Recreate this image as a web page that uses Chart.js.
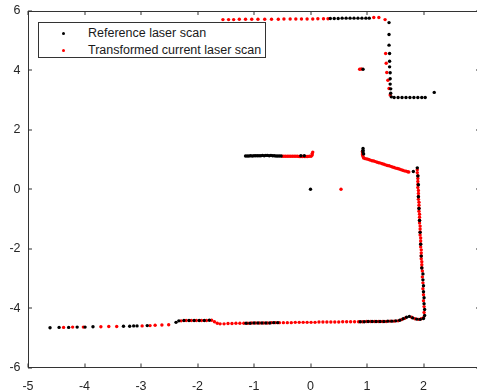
<!DOCTYPE html>
<html>
<head>
<meta charset="utf-8">
<script src="https://cdn.jsdelivr.net/npm/chart.js@4.4.1/dist/chart.umd.min.js"></script>
<style>
  html, body { margin: 0; padding: 0; background: #fff; }
  #wrap { position: relative; width: 477px; height: 392px; overflow: hidden; }
  #wrap canvas { position: absolute; left: 0; top: 0; }
  #legend {
    position: absolute; left: 38px; top: 22px; width: 226px; height: 34px;
    border: 1px solid #333; background: #fff;
    font-family: "Liberation Sans", Arial, sans-serif; font-size: 12.5px; color: #1a1a1a;
  }
  .row { position: absolute; left: 0; height: 16px; line-height: 16px; white-space: nowrap; }
  .dot { position: absolute; left: 22.5px; top: 6.5px; width: 3px; height: 3px; border-radius: 50%; }
  .lbl { position: absolute; left: 49px; top: 0; }
</style>
</head>
<body>
<div id="wrap">
  <canvas id="c" width="490" height="392"></canvas>
  <div id="legend"></div>
</div>
<script>
// tick values
const xTickValues = [-5, -4, -3, -2, -1, 0, 1, 2, 3];
const yTickValues = [-6, -4, -2, 0, 2, 4, 6];

const seriesNames = ['Reference laser scan', 'Transformed current laser scan'];
const seriesColors = ['#000000', '#ff0000'];

// reference scan (black), [x, y]
const refScan = [
  // top wall
  [0.35,5.75],[0.42,5.75],[0.49,5.75],[0.56,5.76],[0.63,5.76],[0.70,5.76],[0.77,5.76],[0.84,5.76],[0.91,5.76],[0.98,5.76],[1.04,5.76],
  // corridor on the right
  [1.39,5.61],[1.39,5.21],[1.39,4.85],[1.40,4.57],[1.40,4.31],[1.40,4.12],[1.41,3.92],[1.41,3.72],[1.41,3.54],[1.42,3.38],[1.42,3.23],[1.43,3.11],
  [1.48,3.09],[1.55,3.09],[1.62,3.09],[1.69,3.09],[1.76,3.09],[1.83,3.09],[1.90,3.09],[1.97,3.09],[2.03,3.09],
  [2.19,3.26],
  [0.93,4.04],
  // middle segment
  [-1.15,1.12],[-1.12,1.12],[-1.09,1.12],[-1.06,1.13],[-1.03,1.12],[-1.00,1.13],[-0.97,1.13],[-0.94,1.13],[-0.91,1.13],[-0.88,1.13],[-0.85,1.14],
  [-0.82,1.13],[-0.79,1.14],[-0.76,1.14],[-0.73,1.13],[-0.70,1.14],[-0.67,1.13],[-0.64,1.13],[-0.61,1.12],[-0.58,1.12],[-0.55,1.12],[-0.52,1.12],
  [-0.17,1.13],[-0.11,1.13],
  [0.00,0.00],
  [0.93,1.37],[0.93,1.31],[0.93,1.25],[0.94,1.19],
  [1.82,0.60],
  // right wall
  [1.89,0.72],[1.90,0.45],[1.91,0.15],[1.91,-0.25],[1.92,-0.65],[1.93,-1.05],[1.94,-1.45],[1.95,-1.85],[1.96,-2.25],[1.97,-2.65],
  [1.99,-2.85],[1.99,-3.05],[2.00,-3.25],[2.00,-3.45],[2.01,-3.65],[2.01,-3.85],[2.02,-4.05],[2.02,-4.25],
  // bottom wall
  [-4.61,-4.66],[-4.45,-4.65],[-4.28,-4.65],[-4.13,-4.64],[-3.99,-4.64],[-3.85,-4.63],[-3.31,-4.61],[-3.20,-4.61],[-3.13,-4.60],[-3.07,-4.60],[-2.89,-4.59],
  [-2.38,-4.48],[-2.33,-4.43],[-2.24,-4.42],[-2.15,-4.42],[-2.06,-4.42],[-1.97,-4.42],[-1.88,-4.42],[-1.79,-4.41],
  [-1.14,-4.51],[-1.07,-4.51],[-1.00,-4.50],[-0.93,-4.50],[-0.86,-4.50],[-0.79,-4.50],[-0.72,-4.50],[-0.65,-4.49],[-0.58,-4.49],
  [0.88,-4.46],[0.95,-4.46],[1.02,-4.45],[1.09,-4.45],[1.16,-4.45],[1.23,-4.45],[1.30,-4.45],[1.37,-4.44],[1.44,-4.44],[1.51,-4.43],
  [1.58,-4.41],[1.64,-4.36],[1.70,-4.31],[1.75,-4.28],[1.81,-4.33],[1.88,-4.37],[1.94,-4.38],[2.00,-4.35]
];

// transformed current scan (red)
const curScan = [
  // top wall
  [-1.55,5.71],[-1.45,5.71],[-1.36,5.71],[-1.26,5.72],[-1.15,5.72],[-1.04,5.72],[-0.93,5.72],[-0.81,5.72],[-0.69,5.72],[-0.57,5.72],
  [-0.47,5.73],[-0.36,5.73],[-0.26,5.73],[-0.16,5.73],[-0.06,5.73],[0.04,5.73],[0.13,5.74],[0.23,5.74],[0.31,5.74],
  [1.12,5.78],[1.21,5.78],[1.32,5.71],
  // corridor
  [1.33,4.57],[1.34,4.24],[1.35,3.93],[1.37,3.67],[1.39,3.39],[1.41,3.17],
  [0.87,4.04],[0.90,4.05],
  // middle segment
  [-0.50,1.11],[-0.47,1.11],[-0.44,1.11],[-0.41,1.11],[-0.38,1.11],[-0.35,1.11],[-0.32,1.11],[-0.29,1.11],[-0.26,1.11],[-0.23,1.11],
  [-0.20,1.10],[-0.17,1.10],[-0.14,1.10],[-0.11,1.10],[-0.08,1.10],[-0.05,1.10],[-0.02,1.11],[0.01,1.11],[0.03,1.15],[0.03,1.20],[0.04,1.25],
  [0.54,0.00],
  [0.92,1.28],[0.92,1.22],[0.92,1.16],[0.93,1.10],[0.94,1.05],
  [0.97,1.03],[1.00,1.02],[1.03,1.00],[1.06,0.98],[1.09,0.96],[1.12,0.95],[1.15,0.93],[1.18,0.91],[1.21,0.89],[1.24,0.88],
  [1.27,0.86],[1.30,0.84],[1.33,0.82],[1.36,0.80],[1.39,0.79],[1.42,0.77],[1.45,0.75],[1.48,0.73],[1.51,0.71],[1.54,0.70],
  [1.57,0.68],[1.60,0.66],[1.63,0.64],[1.66,0.62],[1.69,0.61],[1.72,0.59],[1.74,0.58],
  // right wall
  [1.89,0.66],[1.89,0.56],[1.90,0.46],[1.90,0.36],[1.90,0.26],[1.90,0.16],[1.90,0.06],[1.91,-0.04],[1.91,-0.14],[1.91,-0.24],
  [1.91,-0.34],[1.92,-0.44],[1.92,-0.54],[1.92,-0.64],[1.92,-0.74],[1.93,-0.84],[1.93,-0.94],[1.93,-1.04],[1.93,-1.14],[1.94,-1.24],
  [1.94,-1.34],[1.94,-1.44],[1.94,-1.54],[1.95,-1.64],[1.95,-1.74],[1.95,-1.84],[1.95,-1.94],[1.96,-2.04],[1.96,-2.14],[1.96,-2.24],
  [1.96,-2.34],[1.97,-2.44],[1.97,-2.54],[1.97,-2.64],
  [1.98,-2.75],[1.98,-2.95],[1.99,-3.15],[1.99,-3.35],[2.00,-3.55],[2.00,-3.75],[2.01,-3.95],[2.01,-4.15],
  // bottom wall
  [-4.37,-4.65],[-4.21,-4.64],[-4.02,-4.64],[-3.71,-4.63],[-3.57,-4.62],[-3.43,-4.62],[-2.98,-4.60],[-2.84,-4.59],[-2.75,-4.58],[-2.63,-4.57],[-2.51,-4.56],
  [-2.29,-4.43],[-2.20,-4.42],[-2.11,-4.42],[-2.02,-4.42],[-1.93,-4.42],[-1.84,-4.42],[-1.75,-4.41],[-1.70,-4.46],[-1.65,-4.51],
  [-1.60,-4.53],[-1.53,-4.53],[-1.46,-4.52],[-1.39,-4.52],[-1.32,-4.51],[-1.25,-4.51],[-1.18,-4.51],[-1.11,-4.51],[-1.04,-4.50],[-0.97,-4.50],
  [-0.90,-4.50],[-0.83,-4.50],[-0.76,-4.50],[-0.69,-4.49],[-0.62,-4.49],[-0.55,-4.49],[-0.48,-4.49],[-0.41,-4.49],[-0.34,-4.49],[-0.27,-4.48],
  [-0.20,-4.48],[-0.13,-4.48],[-0.06,-4.48],[0.01,-4.48],[0.08,-4.48],[0.15,-4.47],[0.22,-4.47],[0.29,-4.47],[0.36,-4.47],[0.43,-4.47],
  [0.50,-4.47],[0.57,-4.46],[0.64,-4.46],[0.71,-4.46],[0.78,-4.46],[0.85,-4.46],[0.92,-4.46],[0.99,-4.45],[1.06,-4.45],[1.13,-4.45],
  [1.20,-4.45],[1.27,-4.45],[1.34,-4.45],[1.41,-4.44],[1.48,-4.44],[1.55,-4.43],
  [1.61,-4.39],[1.67,-4.34],[1.79,-4.31],[1.85,-4.36],[1.91,-4.38],[1.96,-4.36],[2.00,-4.32]
];

const toPts = arr => arr.map(([x, y]) => ({ x, y }));
const tickFont = { family: '"Liberation Sans", Arial, sans-serif', size: 12.5 };
const axisColor = '#333333';

// legend (html)
const legendBox = document.getElementById('legend');
seriesNames.forEach((name, i) => {
  const row = document.createElement('div');
  row.className = 'row';
  row.style.top = (2 + i * 17) + 'px';
  row.innerHTML = `<span class="dot" style="background:${seriesColors[i]}"></span><span class="lbl">${name}</span>`;
  legendBox.appendChild(row);
});

// inward tick marks, drawn over the datasets with the chart's own scales
const tickMarks = {
  id: 'tickmarks',
  afterDatasetsDraw(chart) {
    const { ctx, chartArea: a } = chart;
    const sx = chart.scales.x, sy = chart.scales.y;
    ctx.save();
    ctx.fillStyle = axisColor;
    xTickValues.forEach(v => {
      const px = Math.round(sx.getPixelForValue(v)) - 0.5;
      ctx.fillRect(px, a.bottom - 4, 1, 4);
      ctx.fillRect(px, a.top, 1, 4);
    });
    yTickValues.forEach(v => {
      const py = Math.round(sy.getPixelForValue(v)) - 0.5;
      ctx.fillRect(a.left, py, 4, 1);
      ctx.fillRect(a.right - 4, py, 4, 1);
    });
    ctx.restore();
  }
};

// axis options shared by the box sides
const sideAxis = (position, axis, min, max) => ({
  type: 'linear', position, axis, min, max,
  grid: { display: false, drawTicks: false },
  border: { display: true, color: axisColor, width: 1 },
  ticks: { display: false },
  afterFit: s => {
    if (axis === 'x') s.height = 0; else s.width = 0;
    s.paddingLeft = 0; s.paddingRight = 0; s.paddingTop = 0; s.paddingBottom = 0;
  }
});

new Chart(document.getElementById('c'), {
  type: 'scatter',
  data: {
    datasets: [
      { label: seriesNames[0], data: toPts(refScan), backgroundColor: seriesColors[0], pointRadius: 1.7, pointBorderWidth: 0 },
      { label: seriesNames[1], data: toPts(curScan), backgroundColor: seriesColors[1], pointRadius: 1.7, pointBorderWidth: 0 }
    ]
  },
  options: {
    responsive: false,
    animation: false,
    events: [],
    layout: { padding: { top: 11, right: 10, bottom: 0, left: 0 } },
    plugins: { legend: { display: false }, tooltip: { enabled: false } },
    scales: {
      x: {
        type: 'linear', position: 'bottom', min: -5, max: 3,
        grid: { display: false, drawTicks: false },
        border: { display: true, color: axisColor, width: 1 },
        afterBuildTicks: s => { s.ticks = xTickValues.map(v => ({ value: v })); },
        afterFit: s => { s.height = 24.5; s.paddingLeft = 0; s.paddingRight = 0; },
        ticks: { padding: 12, color: '#262626', font: tickFont, autoSkip: false, maxRotation: 0 }
      },
      y: {
        type: 'linear', position: 'left', min: -6, max: 6,
        grid: { display: false, drawTicks: false },
        border: { display: true, color: axisColor, width: 1 },
        afterBuildTicks: s => { s.ticks = yTickValues.map(v => ({ value: v })); },
        afterFit: s => { s.width = 28; s.paddingTop = 0; s.paddingBottom = 0; },
        ticks: { padding: 7.5, color: '#262626', font: tickFont, autoSkip: false }
      },
      xTop: sideAxis('top', 'x', -5, 3),
      yRight: sideAxis('right', 'y', -6, 6)
    }
  },
  plugins: [tickMarks]
});
</script>
</body>
</html>
